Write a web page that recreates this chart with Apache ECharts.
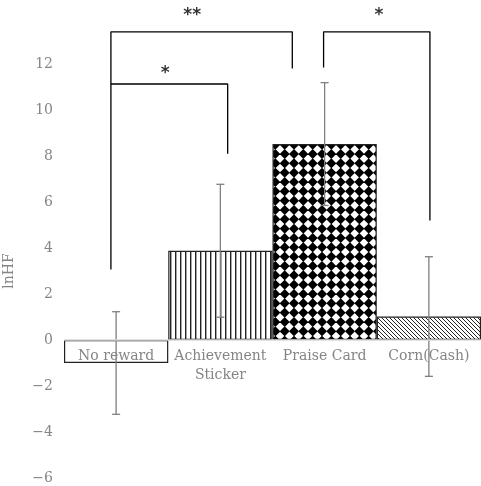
<!DOCTYPE html>
<html>
<head>
<meta charset="utf-8">
<script src="https://cdn.jsdelivr.net/npm/echarts@6/dist/echarts.min.js"></script>
<style>html,body{margin:0;padding:0;background:#fff}#c{width:481px;height:486px}</style>
</head>
<body>
<div id="c"></div>
<script>
// ---- data ----
var categories = ['No reward', 'Achievement\nSticker', 'Praise Card', 'Corn(Cash)'];
var meanValues = [-1.0, 3.88, 8.52, 1.02];
var errorValues = [2.23, 2.89, 2.67, 2.6];
var yTicks = [-6, -4, -2, 0, 2, 4, 6, 8, 10, 12];
// significance brackets: [x (category units), y (lnHF units)]
var bracketAll = [[-0.05, 3.07], [-0.05, 13.4], [1.69, 13.4], [1.69, 11.8]];
var bracketInner = [[-0.05, 11.13], [1.07, 11.13], [1.07, 8.1]];
var bracketRight = [[1.99, 11.85], [1.99, 13.4], [3.01, 13.4], [3.01, 5.2]];
var starMarks = [[0.73, 14.1, '**'], [0.47, 11.6, '*'], [2.52, 14.1, '*']];

// ---- patterns ----
function makePattern(kind) {
  var c = document.createElement('canvas');
  var ctx;
  if (kind === 'vlines') {
    c.width = 5; c.height = 10; ctx = c.getContext('2d');
    ctx.fillStyle = '#fff'; ctx.fillRect(0, 0, 5, 10);
    ctx.fillStyle = '#222'; ctx.fillRect(0, 0, 1.4, 10);
  } else if (kind === 'diamonds') {
    c.width = 28; c.height = 28; ctx = c.getContext('2d');
    ctx.fillStyle = '#fff'; ctx.fillRect(0, 0, 28, 28);
    ctx.fillStyle = '#000';
    var s = 28 / 3;
    for (var i = -1; i < 4; i++) for (var j = -1; j < 4; j++) {
      var cx = s * i + s / 2, cy = s * j + s / 2, r = 5.0;
      ctx.beginPath();
      ctx.moveTo(cx, cy - r); ctx.lineTo(cx + r, cy); ctx.lineTo(cx, cy + r); ctx.lineTo(cx - r, cy);
      ctx.closePath(); ctx.fill();
    }
  } else if (kind === 'diag') {
    c.width = 4; c.height = 4; ctx = c.getContext('2d');
    ctx.fillStyle = '#fff'; ctx.fillRect(0, 0, 4, 4);
    ctx.strokeStyle = '#222'; ctx.lineWidth = 1;
    ctx.beginPath();
    ctx.moveTo(-1, -1); ctx.lineTo(5, 5);
    ctx.moveTo(-1, 3); ctx.lineTo(1, 5);
    ctx.moveTo(3, -1); ctx.lineTo(5, 1);
    ctx.stroke();
  }
  return {image: c, repeat: 'repeat'};
}
var fills = ['#ffffff', makePattern('vlines'), makePattern('diamonds'), makePattern('diag')];

var chart = echarts.init(document.getElementById('c'), null, {renderer: 'canvas'});
var fontFam = '"DejaVu Serif", "Liberation Serif", serif';
var gridBottom = 8;

function bracketSeries(data) {
  return {
    type: 'line', xAxisIndex: 1, yAxisIndex: 0, data: data, clip: false,
    symbol: 'none', silent: true, z: 5,
    lineStyle: {color: '#000', width: 1.3}
  };
}

chart.setOption({
  animation: false,
  backgroundColor: '#fff',
  grid: {left: 64, right: 0, top: 64, bottom: gridBottom, containLabel: false, outerBoundsMode: 'none'},
  xAxis: [{
    type: 'category', data: categories, position: 'bottom', offset: 0, z: 10,
    axisLine: {show: false, onZero: false},
    axisTick: {show: false},
    axisLabel: {interval: 0, hideOverlap: false, color: '#858585', fontFamily: fontFam, fontSize: 14, margin: 7, lineHeight: 19}
  }, {
    type: 'value', min: -0.5, max: 3.5, show: false, axisLine: {onZero: false}
  }],
  yAxis: {
    type: 'value', min: -6, max: 12, interval: 2,
    name: 'lnHF', nameLocation: 'middle', nameGap: 48, nameRotate: 90,
    nameTextStyle: {color: '#858585', fontFamily: fontFam, fontSize: 14},
    axisLine: {show: false, onZero: false}, axisTick: {show: false}, splitLine: {show: false},
    axisLabel: {
      color: '#858585', fontFamily: fontFam, fontSize: 14, margin: 11,
      formatter: function (v) { return yTicks.indexOf(v) >= 0 ? String(v).replace('-', '\u2212') : ''; }
    }
  },
  series: [{
    type: 'bar', barCategoryGap: '0%', barWidth: '100%',
    data: meanValues.map(function (v, i) {
      return {value: v, itemStyle: {color: fills[i], borderColor: '#222', borderWidth: 1.2}};
    }),
    z: 2
  }, {
    type: 'custom', z: 3,
    data: meanValues.map(function (v, i) { return [i, v - errorValues[i], v + errorValues[i]]; }),
    renderItem: function (params, api) {
      var lo = api.coord([api.value(0), api.value(1)]);
      var hi = api.coord([api.value(0), api.value(2)]);
      var x = lo[0], hw = 4;
      var st = {stroke: '#7f7f7f', lineWidth: 1.3};
      return {type: 'group', children: [
        {type: 'line', shape: {x1: x, y1: lo[1], x2: x, y2: hi[1]}, style: st},
        {type: 'line', shape: {x1: x - hw, y1: lo[1], x2: x + hw, y2: lo[1]}, style: st},
        {type: 'line', shape: {x1: x - hw, y1: hi[1], x2: x + hw, y2: hi[1]}, style: st}
      ]};
    },
    markLine: {
      silent: true, symbol: 'none', label: {show: false},
      lineStyle: {color: '#d9d9d9', width: 1.5, type: 'solid'},
      data: [{yAxis: 0}]
    }
  },
  bracketSeries(bracketAll),
  bracketSeries(bracketInner),
  bracketSeries(bracketRight),
  {
    type: 'scatter', xAxisIndex: 1, yAxisIndex: 0, clip: false, symbolSize: 1,
    itemStyle: {color: 'rgba(0,0,0,0)'}, z: 6,
    data: starMarks.map(function (s) { return {value: [s[0], s[1]], name: s[2]}; }),
    label: {
      show: true, position: 'inside', formatter: '{b}',
      color: '#000', fontSize: 17, fontWeight: 'bold', fontFamily: '"DejaVu Sans", sans-serif'
    }
  }]
});

// move the category axis labels up to the zero line (computed through the y scale)
var zeroPx = chart.convertToPixel({yAxisIndex: 0}, 0);
var minPx = chart.convertToPixel({yAxisIndex: 0}, yTicks[0]);
chart.setOption({xAxis: [{offset: -(minPx - zeroPx)}, {}]});
</script>
</body>
</html>
